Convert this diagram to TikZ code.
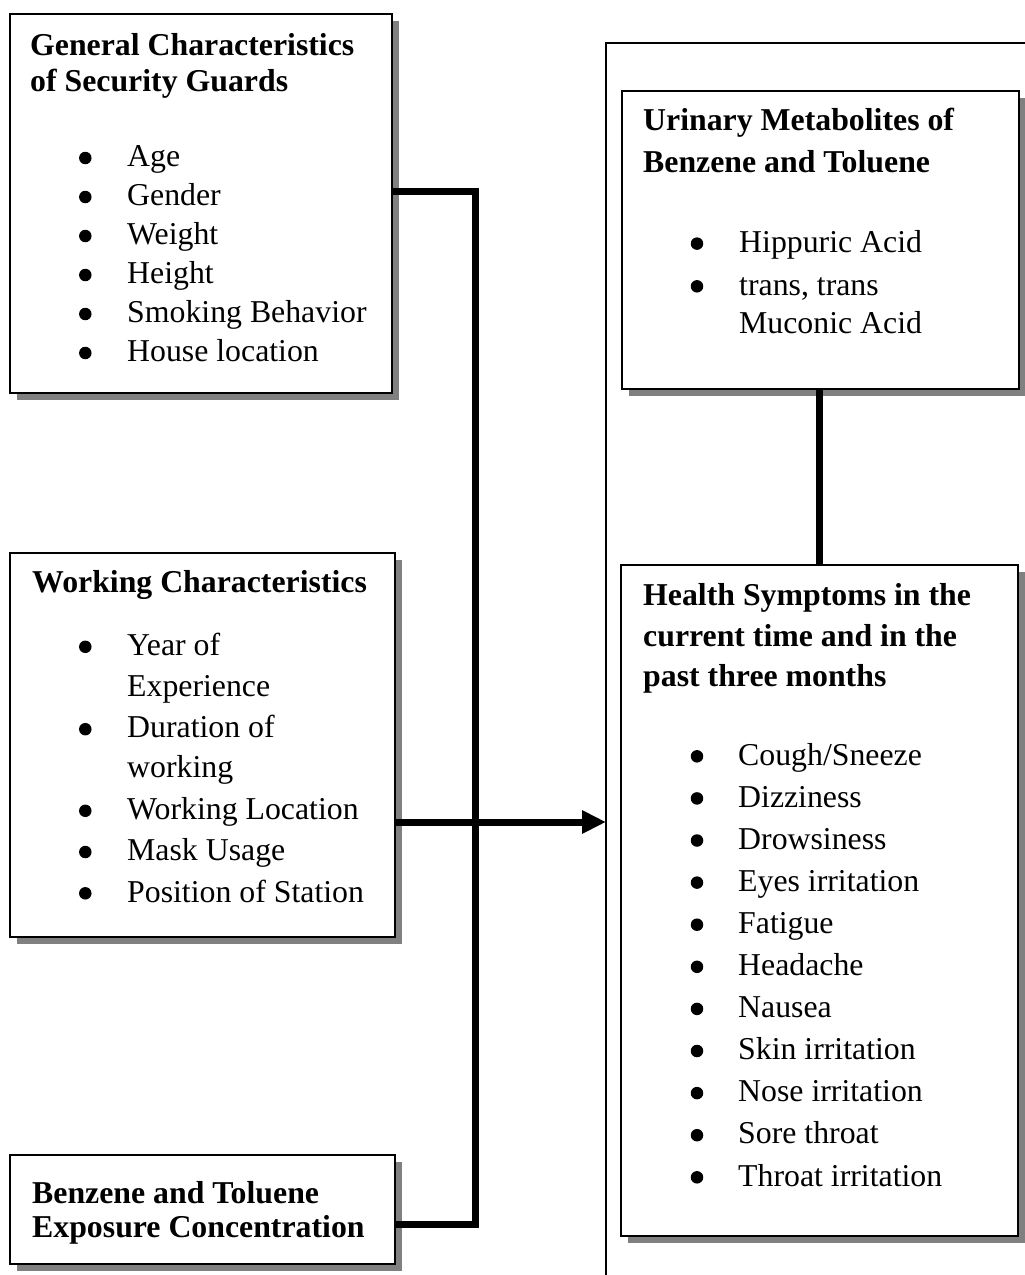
\documentclass[tikz,border=0pt]{standalone}
\usepackage{fontspec}
\setmainfont{Liberation Serif}
\usetikzlibrary{shadows,arrows.meta}
\newcommand{\diagfs}{\fontsize{31.8}{38}\selectfont}
\begin{document}
\begin{tikzpicture}[x=1pt,y=-1pt,
  box/.style={draw=black, line width=1.6pt, fill=white, anchor=north west, inner sep=0pt, outer sep=0pt,
    drop shadow={shadow xshift=6.5pt, shadow yshift=-6.5pt, fill=black!50, opacity=1}},
  outerbox/.style={draw=black, line width=1.5pt, anchor=north west, inner sep=0pt, outer sep=0pt},
  ttl/.style={anchor=base west, inner sep=0pt, font=\diagfs\bfseries},
  itm/.style={anchor=base west, inner sep=0pt, font=\diagfs},
  bul/.style={circle, fill=black, inner sep=0pt, minimum size=12.5pt, yshift=8.7pt},
  link/.style={line width=7pt, line join=miter},
]
\useasboundingbox (0,0) rectangle (1025,1275);
\clip (0,0) rectangle (1025,1275);

% outer right frame (extends beyond the page)
\node[outerbox, minimum width=450pt, minimum height=1260pt] (outer) at (606,43) {};

% boxes
\node[box, minimum width=382pt, minimum height=379pt] (gc) at (10,14) {};
\node[box, minimum width=385pt, minimum height=384pt] (wc) at (10,553) {};
\node[box, minimum width=385pt, minimum height=109pt] (bt) at (10,1155) {};
\node[box, minimum width=397pt, minimum height=298pt] (um) at (622,91) {};
\node[box, minimum width=397pt, minimum height=671pt] (hs) at (621,565) {};

% General characteristics
\node[ttl] (gct1) at (30,55) {General Characteristics};
\node[ttl] (gct2) at (30,91.5) {of Security Guards};
\foreach \t/\y [count=\i] in {Age/166.7, Gender/205.7, Weight/244.7, Height/283.7, Smoking Behavior/322.7, House location/361.7}{
  \node[bul] (gcb\i) at (85.3,\y) {};
  \node[itm] (gci\i) at (127,\y) {\t};
}

% Working characteristics
\node[ttl] (wct1) at (32,592) {Working Characteristics};
\node[bul] (wcb1) at (85.3,655.5) {};
\node[itm] (wci1) at (127,655.5) {Year of};
\node[itm] (wci1b) at (127,696.7) {Experience};
\node[bul] (wcb2) at (85.3,737.9) {};
\node[itm] (wci2) at (127,737.9) {Duration of};
\node[itm] (wci2b) at (127,777.5) {working};
\node[bul] (wcb3) at (85.3,819.5) {};
\node[itm] (wci3) at (127,819.5) {Working Location};
\node[bul] (wcb4) at (85.3,860.7) {};
\node[itm] (wci4) at (127,860.7) {Mask Usage};
\node[bul] (wcb5) at (85.3,902) {};
\node[itm] (wci5) at (127,902) {Position of Station};

% Benzene and toluene exposure
\node[ttl] (btt1) at (32,1203) {Benzene and Toluene};
\node[ttl] (btt2) at (32,1237) {Exposure Concentration};

% Urinary metabolites
\node[ttl] (umt1) at (643,130) {Urinary Metabolites of};
\node[ttl] (umt2) at (643,172) {Benzene and Toluene};
\node[bul] (umb1) at (697,252.3) {};
\node[itm] (umi1) at (739,252.3) {Hippuric Acid};
\node[bul] (umb2) at (697,295) {};
\node[itm] (umi2) at (739,295) {trans, trans};
\node[itm] (umi2b) at (739,333.3) {Muconic Acid};

% Health symptoms
\node[ttl] (hst1) at (643,605) {Health Symptoms in the};
\node[ttl] (hst2) at (643,646) {current time and in the};
\node[ttl] (hst3) at (643,686) {past three months};
\foreach \t/\y [count=\i] in {{Cough/Sneeze}/765, Dizziness/807.1, Drowsiness/849.2, Eyes irritation/891.3, Fatigue/933.4, Headache/975.5, Nausea/1017.6, Skin irritation/1059.7, Nose irritation/1101.8, Sore throat/1143.9, Throat irritation/1186}{
  \node[bul] (hsb\i) at (697,\y) {};
  \node[itm] (hsi\i) at (738,\y) {\t};
}

% connectors
\coordinate (busTop) at (475.5,191.5);
\coordinate (busBot) at (475.5,1224);
\coordinate (arrY) at (0,822);
\draw[link] (gc.east |- busTop) -- (busTop) -- (busBot) -- (bt.east |- busBot);
\draw[link, -{Triangle[length=24pt,width=22pt]}] (wc.east |- arrY) -- (outer.west |- arrY);
\draw[link] (hs.north) -- (hs.north |- um.south);
\end{tikzpicture}
\end{document}
